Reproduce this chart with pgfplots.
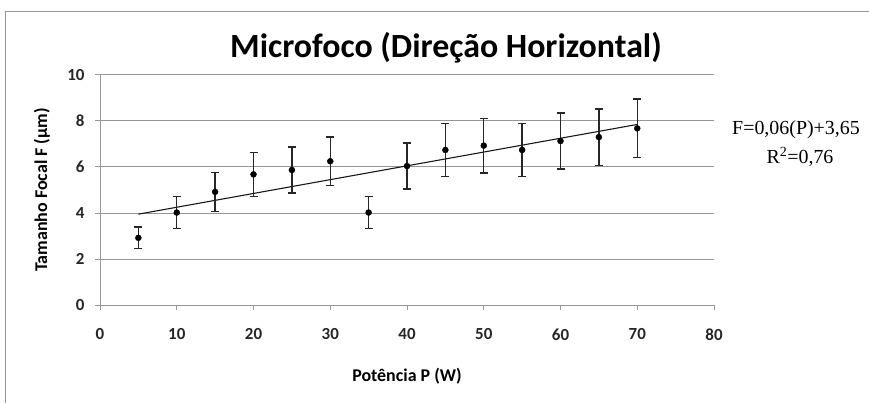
\documentclass[border=0pt]{standalone}
\usepackage{pgfplots}
\pgfplotsset{compat=1.18}
\usepackage{pgfplotstable}
\usepackage{fontspec}
\setmainfont{Carlito}
\newfontfamily\tnr{Liberation Serif}
\definecolor{gridgray}{RGB}{150,150,150}
\pgfplotstableread{
x y e
5 2.92 0.47
10 4.02 0.70
15 4.92 0.85
20 5.68 0.95
25 5.87 1.00
30 6.25 1.06
35 4.02 0.70
40 6.04 1.00
45 6.74 1.15
50 6.93 1.19
55 6.74 1.15
60 7.13 1.22
65 7.30 1.23
70 7.68 1.28
}\datatab
\begin{document}
\begin{tikzpicture}[x=1bp,y=1bp]
\useasboundingbox (0,0) rectangle (869,403);
\fill[white] (0,0) rectangle (869,403);
\draw[gridgray, line width=1bp] (5,0) -- (5,391) -- (869,391);
\begin{axis}[
  at={(100bp,98bp)}, anchor=south west,
  scale only axis, width=614bp, height=230bp,
  xmin=0, xmax=80, ymin=0, ymax=10,
  xtick={0,10,...,80}, ytick={0,2,...,10},
  axis x line=bottom, axis y line=left,
  axis line style={-, gridgray, line width=1bp},
  tick align=outside, major tick length=5bp,
  tick style={gridgray, line width=1bp},
  ymajorgrids, grid style={gridgray, line width=1bp},
  /pgf/number format/assume math mode=true,
  ticklabel style={font=\bfseries\fontsize{17}{19}\selectfont, text=black!85},
  xticklabel style={yshift=-15bp},
  yticklabel style={xshift=-7bp},
  clip=false,
]
\addplot[black!90, line width=1.1bp, forget plot] coordinates {(5,3.95) (70,7.85)};
\addplot[only marks, mark=*, mark size=3bp, black,
  error bars/.cd, y dir=both, y explicit,
  error bar style={line width=1.4bp, black!85},
  error mark options={rotate=90, mark size=4bp, line width=1.4bp, black!85}]
  table[x=x, y=y, y error=e] {\datatab};
\end{axis}
\node[font=\bfseries\fontsize{34}{38}\selectfont] at (446,355) {Microfoco (Direção Horizontal)};
\node[font=\bfseries\fontsize{18}{20}\selectfont, rotate=90] at (42,213) {Tamanho Focal F (µm)};
\node[font=\bfseries\fontsize{18}{20}\selectfont] at (407,27) {Potência P (W)};
\node[font=\tnr\fontsize{20}{23}\selectfont] at (796,273) {F=0,06(P)+3,65};
\node[font=\tnr\fontsize{20}{23}\selectfont] at (800,246) {R\textsuperscript{2}=0,76};
\end{tikzpicture}
\end{document}
